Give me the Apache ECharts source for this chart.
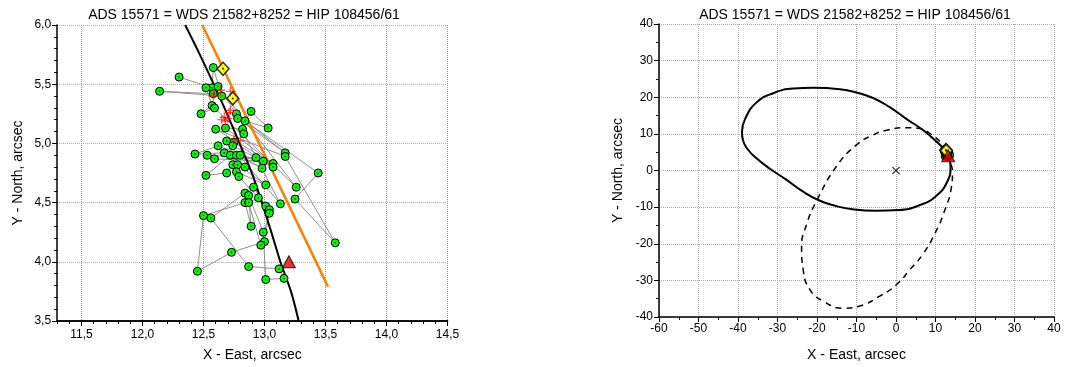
<!DOCTYPE html>
<html>
<head>
<meta charset="utf-8">
<script src="https://cdn.jsdelivr.net/npm/echarts@6/dist/echarts.min.js"></script>
<style>
    html, body { margin: 0; padding: 0; background: #fff; }
    #chart { width: 1075px; height: 367px; }
</style>
</head>
<body>
<div id="chart"></div>
<script>
var titleText = 'ADS 15571 = WDS 21582+8252 = HIP 108456/61'
var xName = 'X - East, arcsec'
var yName = 'Y - North, arcsec'

// observations, in the order they are joined by the grey line
var observations = [
    [12.30, 5.56], [12.57, 5.47], [12.58, 5.64], [12.65, 5.40], [12.14, 5.44],
    [12.58, 5.42], [12.52, 5.47], [12.57, 5.32], [12.48, 5.25], [12.59, 5.30],
    [13.26, 4.63], [12.62, 5.48], [12.77, 5.25], [13.17, 4.92], [12.78, 5.21],
    [13.03, 5.13], [12.89, 5.27], [12.84, 5.19], [13.44, 4.75], [13.25, 4.53],
    [13.58, 4.16], [13.17, 4.89], [12.60, 5.12], [13.07, 4.83], [12.68, 5.13],
    [12.82, 5.12], [12.83, 5.08], [13.13, 4.49], [12.69, 5.02], [12.75, 5.01],
    [13.07, 4.80], [12.62, 4.98], [12.43, 4.91], [12.67, 4.92], [12.74, 4.98],
    [12.93, 4.88], [12.53, 4.90], [12.59, 4.87], [12.99, 4.85], [12.72, 4.90],
    [12.52, 4.73], [12.69, 4.75], [12.77, 4.90], [12.98, 4.79], [12.80, 4.90],
    [12.74, 4.82], [12.84, 4.80], [12.78, 4.82], [13.01, 4.65], [12.77, 4.76],
    [12.79, 4.72], [13.01, 4.47], [12.91, 4.63], [12.84, 4.58], [12.56, 4.37],
    [12.87, 3.96], [13.12, 3.94], [13.16, 3.86], [13.01, 3.85], [12.99, 4.25],
    [12.87, 4.56], [12.89, 4.30], [12.84, 4.50], [12.50, 4.39], [12.45, 3.92],
    [12.73, 4.08], [13.00, 4.17], [13.04, 4.44], [12.95, 4.54], [12.87, 4.50],
    [12.97, 4.14], [13.04, 4.41]
]
var ephemeris = [
    [12.58, 5.40], [12.59, 5.42], [12.64, 5.45], [12.72, 5.44], [12.72, 5.28],
    [12.71, 5.26], [12.65, 5.20], [12.67, 5.22], [12.68, 5.19], [12.70, 5.21],
    [12.75, 5.03], [12.80, 5.02]
]
var orbitArc = [
    [12.35, 6.00], [12.47, 5.75], [12.65, 5.35], [12.82, 4.94], [12.90, 4.74],
    [13.05, 4.27], [13.13, 4.00], [13.22, 3.74], [13.28, 3.50]
]
var orangeLine = [[12.49, 6.00], [13.52, 3.79]]
var diamonds = [[12.66, 5.63], [12.74, 5.38]]
var triangle = [[13.20, 4.00]]
var centre = [[0, 0]]
var orbitSolid = [
    [-39.0, 10.6], [-38.7, 8.1], [-37.4, 5.6], [-35.4, 3.4], [-32.1, 0.6], [-27.8, -2.5],
    [-23.6, -5.7], [-19.4, -8.2], [-15.2, -9.7], [-11.0, -10.6], [-5.0, -11.0], [0.8, -10.8],
    [5.9, -9.5], [10.1, -7.0], [13.0, -3.0], [13.8, 1.0], [13.5, 3.5], [12.4, 5.6],
    [10.2, 7.9], [6.9, 11.0], [2.6, 14.1], [-1.6, 17.3], [-5.8, 19.8], [-10.0, 21.3],
    [-14.2, 22.2], [-21.0, 22.6], [-26.0, 22.4], [-31.1, 21.1], [-35.3, 18.6], [-38.2, 14.1],
    [-39.0, 10.6]
]
var orbitDashed = [
    [12.6, 5.4], [11.9, 7.0], [8.6, 10.1], [6.0, 11.5], [2.6, 11.7], [-2.4, 11.0],
    [-5.8, 9.7], [-10, 7.0], [-15.1, 1.1], [-20.1, -8.3], [-22.6, -14.6], [-23.9, -20.9],
    [-23.5, -27.1], [-21.8, -32.5], [-18.4, -35.7], [-13.2, -37.6], [-9.2, -37.0],
    [-4.1, -34.3], [0.1, -31.2], [3.5, -27.1], [6.9, -22.7], [9.8, -17.3], [12.3, -11.0],
    [14.0, -4.7], [14.3, -0.2], [13.6, 2.5], [12.6, 5.4]
]
var leftXTicks = [11.5, 12.0, 12.5, 13.0, 13.5, 14.0, 14.5]
var leftYRange = [3.5, 6.0]

var font = 'Liberation Sans, Arial, sans-serif'
var comma = function (v) { return v.toFixed(1).replace('.', ',') }
var thinPlus = 'path://M4.4,0h1.2v4.4h4.4v1.2h-4.4v4.4h-1.2v-4.4h-4.4v-1.2h4.4z'
var gridLine = { color: '#aaa', type: 'dotted', width: 1 }

function baseAxis(extra) {
    var a = {
        type: 'value',
        axisLine: { show: true, onZero: false, lineStyle: { color: '#000', width: 1.5 } },
        axisTick: { show: true, length: 5, lineStyle: { color: '#000', width: 1 } },
        minorTick: { show: false },
        axisLabel: { color: '#000', fontSize: 12, fontFamily: font, margin: 6 },
        splitLine: { show: true, lineStyle: gridLine },
        nameLocation: 'middle',
        nameTextStyle: { color: '#000', fontSize: 14, fontFamily: font },
    }
    for (var k in extra) a[k] = extra[k]
    return a
}

function markers(xi, yi) {
    return [
        {
            type: 'scatter', xAxisIndex: xi, yAxisIndex: yi, data: observations,
            symbol: 'circle', symbolSize: 8, z: 4,
            itemStyle: { color: '#11ee11', borderColor: '#000', borderWidth: 1, opacity: 1 },
        },
        {
            type: 'scatter', xAxisIndex: xi, yAxisIndex: yi, data: observations,
            symbol: 'circle', symbolSize: 1.5, z: 5, silent: true,
            itemStyle: { color: '#000' },
        },
        {
            type: 'scatter', xAxisIndex: xi, yAxisIndex: yi, data: ephemeris,
            symbol: thinPlus, symbolSize: 9, z: 6,
            itemStyle: { color: '#ff0000' },
        },
        {
            type: 'scatter', xAxisIndex: xi, yAxisIndex: yi, data: diamonds,
            symbol: 'diamond', symbolSize: [12, 13], z: 7,
            itemStyle: { color: '#ffff00', borderColor: '#000', borderWidth: 1.5 },
        },
        {
            type: 'scatter', xAxisIndex: xi, yAxisIndex: yi, data: diamonds,
            symbol: 'circle', symbolSize: 2, z: 8, silent: true,
            itemStyle: { color: '#000' },
        },
        {
            type: 'scatter', xAxisIndex: xi, yAxisIndex: yi, data: triangle,
            symbol: 'triangle', symbolSize: [13, 12], z: 7,
            itemStyle: { color: '#e00000', borderColor: '#000', borderWidth: 1 },
        },
    ]
}

var chart = echarts.init(document.getElementById('chart'))

var option = {
    animation: false,
    backgroundColor: '#fff',
    textStyle: { fontFamily: font },
    graphic: [
        { type: 'text', x: 244, y: 15, style: { text: titleText, font: '14px ' + font, fill: '#000', textAlign: 'center', textVerticalAlign: 'middle' } },
        { type: 'text', x: 855, y: 15, style: { text: titleText, font: '14px ' + font, fill: '#000', textAlign: 'center', textVerticalAlign: 'middle' } },
    ],
    grid: [
        { left: 57.1, top: 25, width: 390.4, height: 296 },
        { left: 659, top: 24, width: 395, height: 297 },
        // overlay holding only the vertical grid lines of the left panel (11.5 .. 14.5)
        { left: 81.5, top: 25, width: 366, height: 296 },
    ],
    xAxis: [
        baseAxis({
            gridIndex: 0, position: 'bottom', min: 11.3, max: 14.5,
            name: xName, nameGap: 27,
            axisTick: { show: true, length: 5, customValues: leftXTicks, lineStyle: { color: '#000' } },
            axisLabel: { color: '#000', fontSize: 12, fontFamily: font, margin: 8, customValues: leftXTicks, formatter: comma },
            splitLine: { show: false },
        }),
        baseAxis({
            gridIndex: 0, position: 'bottom', min: 11.3, max: 14.5, interval: 0.1,
            axisTick: { show: true, length: 3, lineStyle: { color: '#000' } },
            axisLabel: { show: false },
            splitLine: { show: false },
        }),
        baseAxis({
            gridIndex: 1, position: 'bottom', min: -60, max: 40, interval: 10,
            name: xName, nameGap: 31,
            minorTick: { show: true, splitNumber: 2, length: 3, lineStyle: { color: '#000' } },
        }),
        baseAxis({
            gridIndex: 2, position: 'bottom', min: leftXTicks[0], max: leftXTicks[leftXTicks.length - 1], interval: 0.5,
            axisLine: { show: false }, axisTick: { show: false }, axisLabel: { show: false },
            splitLine: { show: true, lineStyle: { color: '#999', type: 'dotted', width: 1 } },
        }),
    ],
    yAxis: [
        baseAxis({
            gridIndex: 0, position: 'left', min: leftYRange[0], max: leftYRange[1], interval: 0.5,
            name: yName, nameGap: 32,
            minorTick: { show: true, splitNumber: 5, length: 3, lineStyle: { color: '#000' } },
            axisLabel: { color: '#000', fontSize: 12, fontFamily: font, margin: 6, formatter: comma },
        }),
        baseAxis({
            gridIndex: 1, position: 'left', min: -40, max: 40, interval: 10,
            name: yName, nameGap: 34,
            minorTick: { show: true, splitNumber: 2, length: 3, lineStyle: { color: '#000' } },
        }),
        baseAxis({
            gridIndex: 2, position: 'left', min: leftYRange[0], max: leftYRange[1], interval: 0.5,
            axisLine: { show: false }, axisTick: { show: false }, axisLabel: { show: false },
            splitLine: { show: false },
        }),
    ],
    series: [
        {
            // invisible anchor so the overlay grid is laid out and drawn
            type: 'scatter', xAxisIndex: 3, yAxisIndex: 2, silent: true,
            data: [[leftXTicks[0], leftYRange[0]]], symbolSize: 0,
            itemStyle: { opacity: 0 },
        },
        {
            type: 'line', xAxisIndex: 0, yAxisIndex: 0, data: observations,
            showSymbol: false, symbol: 'none', z: 2,
            lineStyle: { color: '#909090', width: 1 },
        },
        {
            type: 'line', xAxisIndex: 0, yAxisIndex: 0, data: orbitArc,
            showSymbol: false, symbol: 'none', smooth: 0.3, z: 3,
            lineStyle: { color: '#000', width: 2 },
        },
        {
            type: 'line', xAxisIndex: 0, yAxisIndex: 0, data: orangeLine,
            showSymbol: false, symbol: 'none', z: 3,
            lineStyle: { color: '#ff8000', width: 2.5 },
        },
    ].concat(markers(0, 0)).concat([
        {
            type: 'line', xAxisIndex: 2, yAxisIndex: 1, data: orbitSolid,
            showSymbol: false, symbol: 'none', smooth: 0.5, z: 3,
            lineStyle: { color: '#000', width: 2 },
        },
        {
            type: 'line', xAxisIndex: 2, yAxisIndex: 1, data: orbitDashed,
            showSymbol: false, symbol: 'none', smooth: 0.5, z: 3,
            lineStyle: { color: '#000', width: 1.5, type: [6, 5] },
        },
        {
            type: 'scatter', xAxisIndex: 2, yAxisIndex: 1, data: centre,
            symbol: thinPlus, symbolSize: 10, symbolRotate: 45, z: 4,
            itemStyle: { color: '#000' },
        },
    ]).concat(markers(2, 1)),
}

chart.setOption(option)
</script>
</body>
</html>
